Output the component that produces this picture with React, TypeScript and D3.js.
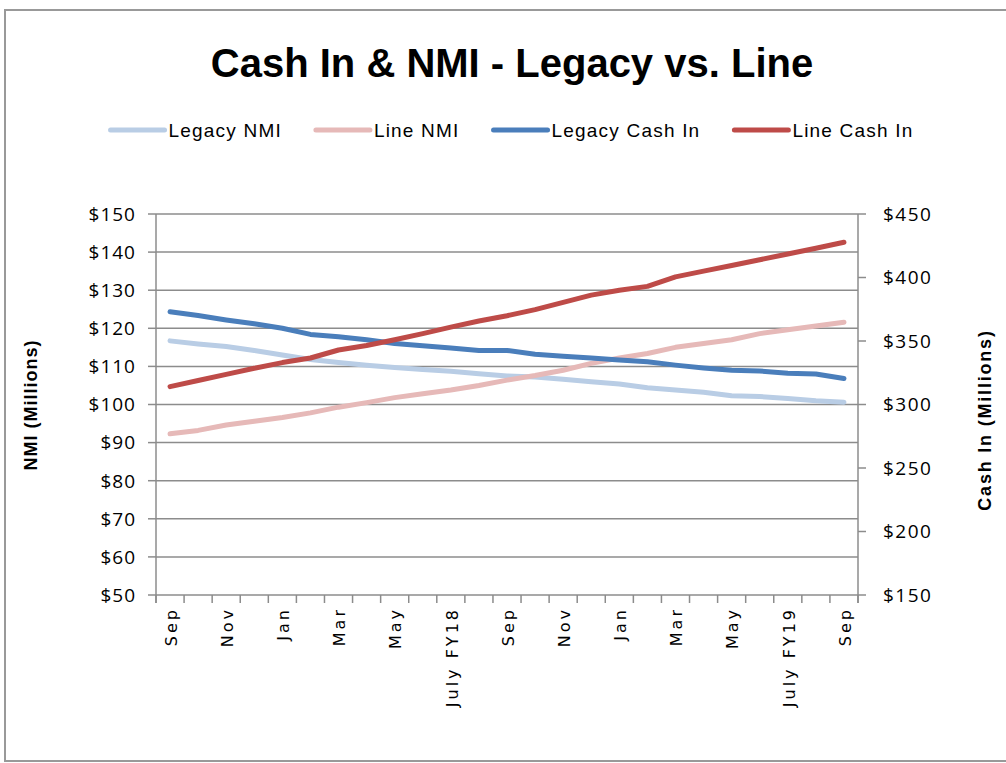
import { useEffect, useRef } from "react"
import * as d3 from "d3"

const months = [
  "Sep", "Oct", "Nov", "Dec", "Jan", "Feb", "Mar", "Apr", "May", "Jun", "July FY18", "Aug",
  "Sep", "Oct", "Nov", "Dec", "Jan", "Feb", "Mar", "Apr", "May", "Jun", "July FY19", "Aug", "Sep",
]

// NMI, $ millions (left axis)
const legacyNmi = [
  116.7, 115.9, 115.2, 114.2, 113.0, 111.8, 111.0, 110.3, 109.7, 109.2, 108.7, 108.1,
  107.5, 107.2, 106.6, 106.0, 105.4, 104.4, 103.8, 103.2, 102.3, 102.1, 101.6, 101.0, 100.6,
]
const lineNmi = [
  92.3, 93.2, 94.6, 95.6, 96.6, 97.8, 99.3, 100.5, 101.8, 102.8, 103.8, 105.0,
  106.4, 107.6, 109.0, 110.8, 112.2, 113.4, 115.0, 116.0, 117.0, 118.6, 119.6, 120.6, 121.6,
]

// Cash In, $ millions (right axis)
const legacyCash = [
  373, 370, 366.6, 363.6, 360, 355.2, 353.4, 351, 348, 346.2, 344.4, 342.6,
  342.6, 339.6, 338, 336.6, 335, 333.6, 331, 328.8, 327, 326.4, 324.6, 324, 320.4,
]
const lineCash = [
  314.1, 318.9, 323.7, 328.5, 333, 336.6, 342.9, 346.5, 351, 355.8, 360.9, 365.7,
  369.9, 374.7, 380.4, 386.1, 390, 393, 400.5, 405, 409.5, 414, 418.5, 423, 427.8,
]

const nmiTicks = [50, 60, 70, 80, 90, 100, 110, 120, 130, 140, 150]
const cashTicks = [150, 200, 250, 300, 350, 400, 450]

const series = [
  { name: "Legacy NMI", values: legacyNmi, axis: "left", color: "#b9cde5" },
  { name: "Line NMI", values: lineNmi, axis: "left", color: "#e6b9b8" },
  { name: "Legacy Cash In", values: legacyCash, axis: "right", color: "#4a7ebb" },
  { name: "Line Cash In", values: lineCash, axis: "right", color: "#be4b48" },
]

const W = 1006
const H = 763

export default function App() {
  const ref = useRef<SVGSVGElement>(null)

  useEffect(() => {
    document.body.style.margin = "0"
    if (!ref.current) return
    const svg = d3.select(ref.current)
    svg.selectAll("*").remove()

    const plot = { left: 156, right: 858, top: 214, bottom: 595 }
    const grey = "#8c8c8c"

    // chart frame
    svg.append("rect")
      .attr("x", 5).attr("y", 10).attr("width", 1010).attr("height", 751)
      .attr("fill", "#fff").attr("stroke", "#999").attr("stroke-width", 2)

    svg.append("text")
      .attr("x", 512).attr("y", 77)
      .attr("text-anchor", "middle")
      .attr("font-family", "Liberation Sans, Arial, sans-serif")
      .attr("font-weight", "bold")
      .attr("font-size", 40)
      .attr("fill", "#000")
      .text("Cash In & NMI - Legacy vs. Line")

    const x = d3.scaleBand<number>()
      .domain(months.map((_, i) => i))
      .range([plot.left, plot.right])
    const yL = d3.scaleLinear().domain([50, 150]).range([plot.bottom, plot.top])
    const yR = d3.scaleLinear().domain([150, 450]).range([plot.bottom, plot.top])
    const cx = (i: number) => (x(i) || 0) + x.bandwidth() / 2

    // gridlines
    svg.selectAll("line.grid")
      .data(nmiTicks)
      .join("line")
      .attr("class", "grid")
      .attr("x1", plot.left).attr("x2", plot.right)
      .attr("y1", (d) => yL(d)).attr("y2", (d) => yL(d))
      .attr("stroke", grey).attr("stroke-width", 1.5)

    // axes lines
    svg.append("line")
      .attr("x1", plot.left).attr("x2", plot.left)
      .attr("y1", plot.top).attr("y2", plot.bottom + 8)
      .attr("stroke", grey).attr("stroke-width", 1.5)
    svg.append("line")
      .attr("x1", plot.right).attr("x2", plot.right)
      .attr("y1", plot.top).attr("y2", plot.bottom + 8)
      .attr("stroke", grey).attr("stroke-width", 1.5)

    // left ticks + labels
    svg.selectAll("line.lt")
      .data(nmiTicks)
      .join("line")
      .attr("class", "lt")
      .attr("x1", plot.left - 8).attr("x2", plot.left)
      .attr("y1", (d) => yL(d)).attr("y2", (d) => yL(d))
      .attr("stroke", grey).attr("stroke-width", 1.5)
    svg.selectAll("text.ll")
      .data(nmiTicks)
      .join("text")
      .attr("class", "ll")
      .attr("x", 136)
      .attr("y", (d) => yL(d))
      .attr("dy", "0.36em")
      .attr("text-anchor", "end")
      .attr("font-family", "Open Sans, sans-serif")
      .attr("font-size", 19)
      .attr("letter-spacing", 1)
      .attr("fill", "#000")
      .text((d) => "$" + d)

    // right ticks + labels
    svg.selectAll("line.rt")
      .data(cashTicks)
      .join("line")
      .attr("class", "rt")
      .attr("x1", plot.right).attr("x2", plot.right + 8)
      .attr("y1", (d) => yR(d)).attr("y2", (d) => yR(d))
      .attr("stroke", grey).attr("stroke-width", 1.5)
    svg.selectAll("text.rl")
      .data(cashTicks)
      .join("text")
      .attr("class", "rl")
      .attr("x", 883)
      .attr("y", (d) => yR(d))
      .attr("dy", "0.36em")
      .attr("font-family", "Open Sans, sans-serif")
      .attr("font-size", 19)
      .attr("letter-spacing", 1.5)
      .attr("fill", "#000")
      .text((d) => "$" + d)

    // x ticks at category boundaries
    const bounds = months.map((_, i) => x(i) || 0).concat([plot.right])
    svg.selectAll("line.xt")
      .data(bounds)
      .join("line")
      .attr("class", "xt")
      .attr("x1", (d) => d).attr("x2", (d) => d)
      .attr("y1", plot.bottom).attr("y2", plot.bottom + 8)
      .attr("stroke", grey).attr("stroke-width", 1.5)

    // x labels, every other month, rotated
    const shown = months.map((m, i) => ({ m, i })).filter((d) => d.i % 2 === 0)
    svg.selectAll("text.xl")
      .data(shown)
      .join("text")
      .attr("class", "xl")
      .attr("transform", (d) => `translate(${cx(d.i) + 1},${plot.bottom + 12}) rotate(-90)`)
      .attr("dy", "0.36em")
      .attr("text-anchor", "end")
      .attr("font-family", "DejaVu Sans, sans-serif")
      .attr("font-size", 16)
      .attr("letter-spacing", 3)
      .attr("fill", "#000")
      .text((d) => d.m)

    // axis titles
    svg.append("text")
      .attr("transform", "translate(31,405) rotate(-90)")
      .attr("dy", "0.36em")
      .attr("text-anchor", "middle")
      .attr("font-family", "Liberation Sans, Arial, sans-serif")
      .attr("font-weight", "bold")
      .attr("font-size", 18)
      .attr("letter-spacing", 1)
      .attr("fill", "#000")
      .text("NMI (Millions)")
    svg.append("text")
      .attr("transform", "translate(985,420) rotate(-90)")
      .attr("dy", "0.36em")
      .attr("text-anchor", "middle")
      .attr("font-family", "Liberation Sans, Arial, sans-serif")
      .attr("font-weight", "bold")
      .attr("font-size", 18)
      .attr("letter-spacing", 1.8)
      .attr("fill", "#000")
      .text("Cash In (Millions)")

    // series lines
    series.forEach((s) => {
      const y = s.axis === "left" ? yL : yR
      const line = d3.line<number>()
        .x((_, i) => cx(i))
        .y((d) => y(d))
      svg.append("path")
        .datum(s.values)
        .attr("d", line)
        .attr("fill", "none")
        .attr("stroke", s.color)
        .attr("stroke-width", 5)
        .attr("stroke-linejoin", "round")
        .attr("stroke-linecap", "round")
    })

    // legend, centred, widths measured
    const legend = svg.append("g")
    const items = series.map((s) => {
      const g = legend.append("g")
      g.append("line")
        .attr("x1", 0).attr("x2", 54)
        .attr("y1", 130).attr("y2", 130)
        .attr("stroke", s.color).attr("stroke-width", 5)
        .attr("stroke-linecap", "round")
      const t = g.append("text")
        .attr("x", 58).attr("y", 130)
        .attr("dy", "0.36em")
        .attr("font-family", "Liberation Sans, Arial, sans-serif")
        .attr("font-size", 19)
        .attr("letter-spacing", 1.2)
        .attr("fill", "#000")
        .text(s.name)
      const w = 58 + (t.node() as SVGTextElement).getComputedTextLength()
      return { g, w }
    })
    const gap = 34
    const total = d3.sum(items, (d) => d.w) + gap * (items.length - 1)
    let pos = 512 - total / 2
    items.forEach((it) => {
      it.g.attr("transform", `translate(${pos},0)`)
      pos += it.w + gap
    })
  }, [])

  return <svg ref={ref} width={W} height={H} style={{ display: "block" }} />
}
